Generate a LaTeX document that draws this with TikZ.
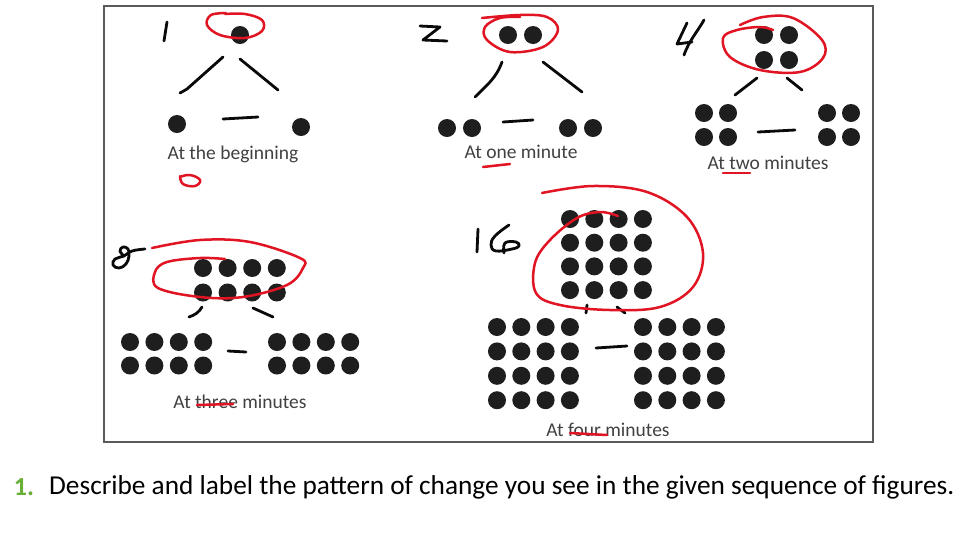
\documentclass[tikz,border=0pt]{standalone}
\usepackage{fontspec}
\setmainfont{Carlito}
\usepackage{xcolor}
\usetikzlibrary{positioning}
\definecolor{inkblack}{RGB}{10,10,10}
\definecolor{penred}{RGB}{225,20,35}
\definecolor{dotblack}{RGB}{30,30,30}
\definecolor{captiongray}{RGB}{65,65,65}
\definecolor{framegray}{RGB}{90,90,90}
\definecolor{numgreen}{RGB}{105,175,55}

\begin{document}
\begin{tikzpicture}[
    x=1pt, y=-1pt,
    dot/.style={fill=dotblack},
    hand/.style={draw=inkblack, line width=2.8pt, line cap=round, line join=round},
    redpen/.style={draw=penred, line width=2.5pt, line cap=round, line join=round},
    caption/.style={text=captiongray, font=\fontsize{19.5}{22}\selectfont, inner sep=0pt}
]
    \useasboundingbox[fill=white] (0,0) rectangle (978,550);

    % Frame
    \draw[framegray, line width=2pt] (104,6) rectangle (873,442);

    % At the beginning
    \fill[dot] (240,35) circle (9pt);
    \fill[dot] (177,124) circle (9pt);
    \fill[dot] (301,127) circle (9pt);
    \node[caption] (lblbegin) at (233,154) {At the beginning};

    % At one minute
    \foreach \xx in {508,533,447,472,568,593}
        \fill[dot] (\xx,{\xx<500 || \xx>560 ? 128 : 35}) circle (9pt);
    \node[caption] (lblone) at (521,152) {At one minute};

    % At two minutes
    \foreach \xx in {764,789} \foreach \yy in {35,60}
        \fill[dot] (\xx,\yy) circle (9pt);
    \foreach \xx in {704,728,827,851} \foreach \yy in {113,137}
        \fill[dot] (\xx,\yy) circle (9pt);
    \node[caption] (lbltwo) at (768,163) {At two minutes};

    % At three minutes
    \foreach \i in {0,...,3} \foreach \j in {0,1} {
        \fill[dot] ({203+24.6*\i},{268+24.5*\j}) circle (9pt);
        \fill[dot] ({130+24.4*\i},{342+23.5*\j}) circle (9pt);
        \fill[dot] ({277+24.4*\i},{342+23.5*\j}) circle (9pt);
    }
    \node[caption] (lblthree) at (240,402) {At three minutes};

    % At four minutes
    \foreach \i in {0,...,3} \foreach \j in {0,...,3} {
        \fill[dot] ({570+24.3*\i},{219+23.7*\j}) circle (9pt);
        \fill[dot] ({497+24.3*\i},{327+24.4*\j}) circle (9pt);
        \fill[dot] ({643+24.3*\i},{327+24.4*\j}) circle (9pt);
    }
    \node[caption] (lblfour) at (608,430) {At four minutes};

    % Handwritten counts
    \draw[hand] (167,22) -- (164,41);
    \draw[hand] (420,26) -- (440,27) -- (423,40) -- (447,41);
    \draw[hand] (687,23) -- (677,44) -- (692,42);
    \draw[hand] (704,20) to[out=240, in=70] (684,55);
    \draw[hand] plot[smooth, tension=0.7] coordinates {
        (145,249) (132,251) (124,256) (115,259) (113,265) (119,268) (126,264)
        (129,256) (128,249) (123,247) (120,251) (124,256)};
    \draw[hand] (478,229) -- (477,252);
    \draw[hand] plot[smooth, tension=0.7] coordinates {
        (509,225) (495,236) (491,245) (496,251) (512,249) (519,246) (516,242)
        (505,243) (504,253)};

    % Handwritten branches
    \draw[hand] (223,57) -- (187,89) -- (180,93);
    \draw[hand] (240,59) -- (278,90);
    \draw[hand] (223,119) -- (258,117);

    \draw[hand] (502,62) to[out=250, in=45] (475,97);
    \draw[hand] (543,62) -- (582,92);
    \draw[hand] (503,122) -- (533,120);

    \draw[hand] (757,78) -- (735,95);
    \draw[hand] (787,78) -- (802,90);
    \draw[hand] (758,132) -- (795,130);

    \draw[hand] (202,307) to[out=240, in=20] (189,317);
    \draw[hand] (253,308) -- (273,317);
    \draw[hand] (228,351) -- (246,352);

    \draw[hand] (587,305) -- (586,313);
    \draw[hand] (617,307) -- (625,313);
    \draw[hand] (596,348) -- (627,346);

    % Red loops
    \draw[redpen] plot[smooth, tension=0.6] coordinates {
        (226,13) (211,15) (207,25) (220,35) (245,38) (262,31) (262,20) (245,14) (225,14)};
    \draw[redpen] plot[smooth, tension=0.6] coordinates {
        (482,18) (520,15) (547,17) (558,30) (543,47) (510,52) (487,40) (485,27)
        (500,18) (520,17)};
    \draw[redpen] plot[smooth, tension=0.6] coordinates {
        (740,25) (763,17) (793,18) (822,40) (823,58) (800,72) (760,70) (730,57)
        (723,38) (737,30) (760,27) (773,30)};
    \draw[redpen] plot[smooth, tension=0.6] coordinates {
        (152,248) (200,240) (250,242) (300,258) (303,268) (287,285) (243,297)
        (200,297) (158,288) (155,272) (167,262) (200,258) (225,259)};
    \draw[redpen] plot[smooth, tension=0.6] coordinates {
        (542,193) (593,186) (647,192) (687,217) (703,253) (693,287) (660,307)
        (610,310) (560,305) (536,293) (535,263) (550,240) (577,218) (600,212)
        (618,216)};

    % Red marks on captions
    \draw[redpen] plot[smooth, tension=0.7] coordinates {
        (180,176) (183,184) (195,186) (200,180) (190,175) (180,177)};
    \draw[redpen] (483,167) -- (510,164);
    \draw[redpen] (723,173) -- (750,173);
    \draw[redpen] (197,405) -- (233,404);
    \draw[redpen] (570,433) -- (607,435);

    % Question
    \node[text=numgreen, font=\fontsize{26}{30}\selectfont\bfseries, inner sep=0pt]
        (qnum) at (24,487) {1.};
    \node[anchor=west, inner sep=0pt, font=\fontsize{27.3}{32}\selectfont]
        (question) at (49,487) {Describe and label the pattern of change you see in the given sequence of figures.};
\end{tikzpicture}
\end{document}
